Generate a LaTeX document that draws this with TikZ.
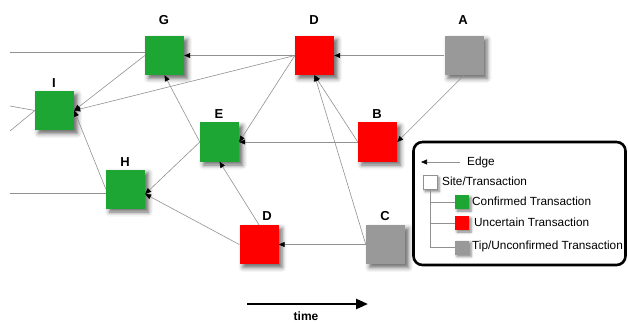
\documentclass[tikz,border=0pt]{standalone}
\usepackage{fontspec}
\setmainfont{Liberation Sans}
\usetikzlibrary{arrows.meta,shadows.blur}
\definecolor{okgreen}{RGB}{30,166,52}
\definecolor{badred}{RGB}{255,0,0}
\definecolor{tipgray}{RGB}{153,153,153}
\definecolor{edgegray}{RGB}{145,145,145}

\begin{document}
\begin{tikzpicture}[x=1pt,y=-1pt,
  site/.style={minimum size=39pt, inner sep=0pt, draw=none,
    blur shadow={shadow xshift=3.5pt, shadow yshift=-3.5pt,
      shadow blur radius=4.5pt, shadow opacity=60}},
  ok/.style={site, fill=okgreen},
  unsure/.style={site, fill=badred},
  tip/.style={site, fill=tipgray},
  keybox/.style={minimum size=14pt, inner sep=0pt,
    blur shadow={shadow xshift=2pt, shadow yshift=-2pt,
      shadow blur radius=2.5pt, shadow opacity=50}},
  tag/.style={font=\bfseries\fontsize{13}{15}\selectfont, inner sep=0pt},
  keytext/.style={anchor=west, inner sep=0pt, font=\fontsize{11.8}{13}\selectfont},
  link/.style={draw=edgegray, line width=0.6pt,
    -{Triangle[length=6pt,width=5pt,color=black]}},
  bare/.style={draw=edgegray, line width=0.6pt},
]
\useasboundingbox (0,0) rectangle (628,323);

% transactions
\node[ok]     (G)  at (164.5,55.5) {};
\node[ok]     (I)  at (54.5,110.5) {};
\node[ok]     (E)  at (219.5,142)  {};
\node[ok]     (H)  at (125.5,189)  {};
\node[unsure] (D1) at (314.5,55.5) {};
\node[tip]    (A)  at (464,55.5)   {};
\node[unsure] (B)  at (377.5,142)  {};
\node[unsure] (D2) at (259,244.5)  {};
\node[tip]    (C)  at (385.5,244.5) {};

% labels
\node[tag] (lG)  at (164,20)  {G};
\node[tag] (lI)  at (54,83)   {I};
\node[tag] (lE)  at (219,114) {E};
\node[tag] (lH)  at (125,162) {H};
\node[tag] (lD1) at (314,20)  {D};
\node[tag] (lA)  at (463,20)  {A};
\node[tag] (lB)  at (377,114) {B};
\node[tag] (lD2) at (267,216) {D};
\node[tag] (lC)  at (385,216) {C};

% edges leaving the picture on the left
\coordinate (gout) at (10,52);
\coordinate (hout) at (10,193);
\coordinate (iup)  at (10,106);
\coordinate (ilo)  at (10,131);
\draw[bare] (G.west |- gout) -- (gout);
\draw[bare] (H.west |- hout) -- (hout);
\draw[bare] (I.west) -- (iup);
\draw[bare] (I.west) -- (ilo);

% approvals
\draw[link] (A.west) -- (D1.east);
\draw[link] (A.south) -- (B.east);
\draw[link] (B.west) -- (D1.south);
\draw[link] (B.west) -- (E.east);
\draw[link] (C.west) -- (D1.south);
\draw[link] (C.west) -- (D2.east);
\draw[link] (D1.west) -- (G.east);
\draw[link] (D1.west) -- (I.east);
\draw[link] (D1.west) -- (E.east);
\draw[link] (E.west) -- (G.south);
\draw[link] (E.west) -- ([yshift=-5pt]H.east);
\draw[link] (D2.north) -- (E.south);
\draw[link] (D2.west) -- ([yshift=-5pt]H.east);
\draw[link] (G.west) -- (I.east);
\draw[link] (H.west) -- (I.east);

% legend
\node[draw=black, line width=2.6pt, rounded corners=9pt,
      minimum width=212pt, minimum height=123pt, inner sep=0pt] (legend) at (519.5,203.5) {};
\coordinate (ek1) at (460,162);
\coordinate (ek2) at (421,162);
\draw[link] (ek1) -- (ek2);
\node[keytext] (tedge) at (467,162) {Edge};

\node[keybox, fill=white, draw=edgegray, line width=0.5pt] (kw) at (430,182.5) {};
\node[keybox, fill=okgreen] (kg) at (462,202)   {};
\node[keybox, fill=badred]  (kr) at (462,223)   {};
\node[keybox, fill=tipgray] (kt) at (462,247.5) {};
\draw[bare] (kw.south) |- (kt.west);
\draw[bare] (kw.south |- kg.west) -- (kg.west);
\draw[bare] (kw.south |- kr.west) -- (kr.west);

\node[keytext] (tw) at (442,181) {Site/Transaction};
\node[keytext] (tg) at (472,201) {Confirmed Transaction};
\node[keytext] (tr) at (474,222) {Uncertain Transaction};
\node[keytext] (tt) at (472,246) {Tip/Unconfirmed Transaction};

% time axis
\coordinate (t0) at (247,304);
\coordinate (t1) at (368,304);
\draw[line width=2.5pt, -{Triangle[length=12pt,width=10pt]}] (t0) -- (t1);
\node[tag, font=\bfseries\fontsize{12}{14}\selectfont] (ttime) at (306,316) {time};
\end{tikzpicture}
\end{document}
